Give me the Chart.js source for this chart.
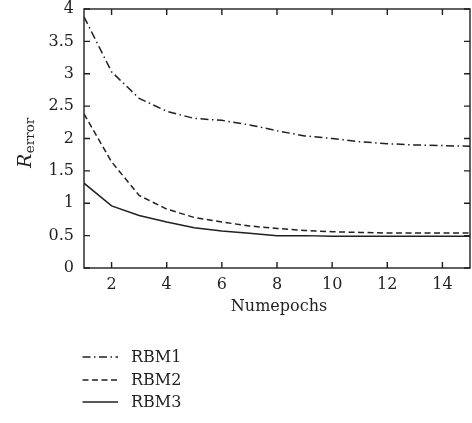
<!DOCTYPE html>
<html>
<head>
<meta charset="utf-8">
<script src="https://cdn.jsdelivr.net/npm/chart.js@4/dist/chart.umd.min.js"></script>
<style>
html,body{margin:0;padding:0;background:#fff;}
#wrap{width:472px;height:423px;}
</style>
</head>
<body>
<div id="wrap"><canvas id="c" width="472" height="423"></canvas></div>
<script>
const epochs = [1,2,3,4,5,6,7,8,9,10,11,12,13,14,15];
const rbm1 = [3.88,3.03,2.62,2.42,2.31,2.28,2.21,2.12,2.04,2.00,1.95,1.92,1.90,1.89,1.88];
const rbm2 = [2.38,1.64,1.12,0.91,0.78,0.71,0.65,0.61,0.58,0.56,0.55,0.54,0.54,0.54,0.54];
const rbm3 = [1.31,0.96,0.81,0.71,0.62,0.57,0.535,0.50,0.50,0.49,0.49,0.49,0.49,0.49,0.49];
const seriesNames = ['RBM1','RBM2','RBM3'];
const xTicks = [2,4,6,8,10,12,14];
const yTicks = [0,0.5,1,1.5,2,2.5,3,3.5,4];
const yTickLabels = ['0','0.5','1','1.5','2','2.5','3','3.5','4'];
const xTitle = 'Numepochs';
const yTitleMain = 'R';
const yTitleSub = 'error';

const INK = '#231f20';
const FONT = '"DejaVu Serif", serif';

function pts(arr){ return epochs.map((x,i)=>({x:x,y:arr[i]})); }

const styles = [
  {borderDash:[8,3.5,1.5,3.5]},
  {borderDash:[6,3.5]},
  {borderDash:[]}
];

const decor = {
  id:'decor',
  afterDraw(chart){
    const ctx = chart.ctx;
    const a = chart.chartArea;
    const xs = chart.scales.x, ys = chart.scales.y;
    ctx.save();
    ctx.strokeStyle = INK;
    ctx.lineWidth = 1.4;
    ctx.setLineDash([]);
    ctx.strokeRect(a.left, a.top, a.right-a.left, a.bottom-a.top);
    const tl = 6;
    ctx.beginPath();
    xTicks.forEach(v=>{
      const px = xs.getPixelForValue(v);
      ctx.moveTo(px, a.bottom); ctx.lineTo(px, a.bottom-tl);
      ctx.moveTo(px, a.top); ctx.lineTo(px, a.top+tl);
    });
    yTicks.forEach(v=>{
      const py = ys.getPixelForValue(v);
      ctx.moveTo(a.left, py); ctx.lineTo(a.left+tl, py);
      ctx.moveTo(a.right, py); ctx.lineTo(a.right-tl, py);
    });
    ctx.stroke();

    // x title
    ctx.fillStyle = INK;
    ctx.font = '16px ' + FONT;
    ctx.textAlign = 'center';
    ctx.textBaseline = 'alphabetic';
    ctx.fillText(xTitle, (a.left+a.right)/2 + 2, 311);

    // y title rotated
    ctx.save();
    ctx.translate(31, 168);
    ctx.rotate(-Math.PI/2);
    ctx.textAlign = 'left';
    ctx.font = 'italic 19px ' + FONT;
    ctx.fillText(yTitleMain, 0, 0);
    const w = ctx.measureText(yTitleMain).width;
    ctx.font = '13.5px ' + FONT;
    ctx.fillText(yTitleSub, w + 0.5, 3);
    ctx.restore();

    // legend
    const rows = [357, 380, 402];
    chart.data.datasets.forEach((ds,i)=>{
      const y = rows[i];
      ctx.beginPath();
      ctx.lineWidth = ds.borderWidth;
      ctx.setLineDash(ds.borderDash || []);
      ctx.moveTo(82.5, y); ctx.lineTo(118, y);
      ctx.stroke();
      ctx.setLineDash([]);
      ctx.font = '16px ' + FONT;
      ctx.textAlign = 'left';
      ctx.textBaseline = 'middle';
      ctx.fillText(ds.label, 131, y + 0.5);
    });
    ctx.restore();
  }
};

const datasets = [rbm1, rbm2, rbm3].map((arr,i)=>({
  label: seriesNames[i],
  data: pts(arr),
  borderColor: INK,
  borderWidth: 1.5,
  borderDash: styles[i].borderDash,
  pointRadius: 0,
  fill: false,
  tension: 0
}));

new Chart(document.getElementById('c'), {
  type: 'line',
  data: { datasets },
  options: {
    responsive: false,
    animation: false,
    layout: { padding: { left: 0, top: 0, right: 2, bottom: 0 } },
    plugins: { legend: { display: false }, tooltip: { enabled: false } },
    scales: {
      x: {
        type: 'linear', min: 1, max: 15,
        afterBuildTicks(s){ s.ticks = xTicks.map(v=>({value:v})); },
        afterFit(s){ s.height = 155; },
        grid: { display: false, drawTicks: false },
        border: { display: false },
        ticks: { color: INK, font: { family: FONT, size: 16 }, padding: 7, maxRotation: 0, autoSkip: false,
          callback: v => String(v) }
      },
      y: {
        type: 'linear', min: 0, max: 4,
        afterBuildTicks(s){ s.ticks = yTicks.map(v=>({value:v})); },
        afterFit(s){ s.width = 84; s.paddingTop = 9; },
        grid: { display: false, drawTicks: false },
        border: { display: false },
        ticks: { color: INK, font: { family: FONT, size: 16 }, padding: 10, autoSkip: false,
          callback: (v) => yTickLabels[yTicks.indexOf(v)] }
      }
    }
  },
  plugins: [decor]
});
</script>
</body>
</html>
